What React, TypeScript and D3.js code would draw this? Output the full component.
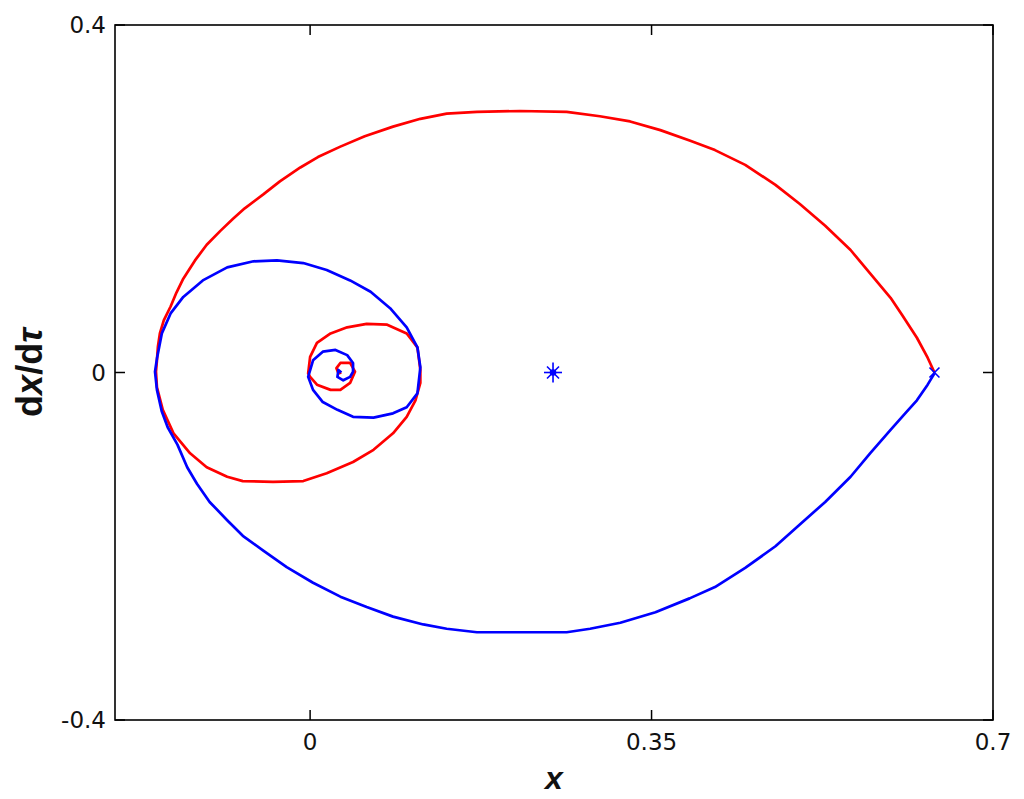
import React from "react";
import * as d3 from "d3";

// phase portrait: [x, dx/dtau] pairs
const redOrbit: [number, number][] = [
  [0.640, 0.000], [0.633, 0.017], [0.622, 0.040], [0.607, 0.066], [0.595, 0.086],
  [0.574, 0.114], [0.554, 0.141], [0.528, 0.169], [0.502, 0.194], [0.477, 0.216],
  [0.446, 0.239], [0.415, 0.256], [0.389, 0.267], [0.359, 0.279], [0.328, 0.289],
  [0.297, 0.295], [0.263, 0.300], [0.215, 0.301], [0.171, 0.300], [0.140, 0.298],
  [0.113, 0.292], [0.085, 0.283], [0.056, 0.272], [0.031, 0.260], [0.008, 0.248],
  [-0.010, 0.236], [-0.031, 0.220], [-0.048, 0.205], [-0.067, 0.189], [-0.079, 0.177],
  [-0.092, 0.163], [-0.106, 0.147], [-0.118, 0.129], [-0.130, 0.108], [-0.137, 0.092],
  [-0.143, 0.076], [-0.150, 0.060], [-0.154, 0.045], [-0.156, 0.030], [-0.157, 0.014],
  [-0.158, 0.001], [-0.157, -0.017], [-0.151, -0.043], [-0.140, -0.070], [-0.123, -0.093],
  [-0.106, -0.109], [-0.085, -0.120], [-0.069, -0.125], [-0.038, -0.126], [-0.007, -0.125],
  [0.017, -0.116], [0.044, -0.103], [0.065, -0.089], [0.085, -0.070], [0.099, -0.051],
  [0.108, -0.032], [0.113, -0.012], [0.113, 0.003], [0.110, 0.029], [0.099, 0.045],
  [0.079, 0.055], [0.058, 0.056], [0.038, 0.052], [0.021, 0.045], [0.007, 0.034],
  [0.000, 0.018], [-0.002, -0.001], [0.000, -0.005], [0.007, -0.014], [0.021, -0.020],
  [0.031, -0.020], [0.041, -0.012], [0.046, 0.001], [0.041, 0.011], [0.031, 0.011],
  [0.027, 0.005], [0.029, -0.001], [0.032, 0.000],
];

const blueOrbit: [number, number][] = [
  [0.640, -0.001], [0.633, -0.014], [0.622, -0.032], [0.610, -0.047], [0.595, -0.066],
  [0.574, -0.093], [0.554, -0.120], [0.528, -0.149], [0.502, -0.175], [0.477, -0.200],
  [0.446, -0.225], [0.415, -0.247], [0.389, -0.260], [0.354, -0.276], [0.318, -0.288],
  [0.287, -0.295], [0.263, -0.299], [0.215, -0.299], [0.171, -0.299], [0.140, -0.295],
  [0.116, -0.290], [0.085, -0.281], [0.058, -0.270], [0.031, -0.258], [0.003, -0.242],
  [-0.024, -0.224], [-0.048, -0.205], [-0.069, -0.188], [-0.085, -0.170], [-0.103, -0.149],
  [-0.116, -0.128], [-0.126, -0.109], [-0.136, -0.083], [-0.146, -0.063], [-0.152, -0.045],
  [-0.157, -0.020], [-0.159, 0.001], [-0.157, 0.016], [-0.152, 0.045], [-0.143, 0.068],
  [-0.130, 0.087], [-0.110, 0.106], [-0.085, 0.121], [-0.058, 0.128], [-0.034, 0.129],
  [-0.007, 0.126], [0.017, 0.118], [0.041, 0.106], [0.062, 0.093], [0.082, 0.074],
  [0.099, 0.052], [0.110, 0.029], [0.113, 0.006], [0.110, -0.024], [0.099, -0.040],
  [0.085, -0.047], [0.065, -0.052], [0.044, -0.051], [0.028, -0.043], [0.013, -0.034],
  [0.003, -0.020], [-0.002, -0.005], [0.003, 0.014], [0.013, 0.024], [0.026, 0.026],
  [0.038, 0.020], [0.044, 0.011], [0.044, 0.001], [0.041, -0.005], [0.034, -0.009],
  [0.028, -0.005], [0.029, 0.003], [0.032, 0.000],
];

const starPoint: [number, number] = [0.249, 0];
const saddlePoint: [number, number] = [0.640, 0];

const xTicks = [0, 0.35, 0.7];
const xTickLabels = ["0", "0.35", "0.7"];
const yTicks = [-0.4, 0, 0.4];
const yTickLabels = ["-0.4", "0", "0.4"];

const W = 1024;
const H = 799;
const left = 115, right = 993, top = 25, bottom = 720;

export default function App() {
  const x = d3.scaleLinear().domain([-0.2, 0.7]).range([left, right]);
  const y = d3.scaleLinear().domain([-0.4, 0.4]).range([bottom, top]);
  const line = d3.line<[number, number]>().x((d) => x(d[0])).y((d) => y(d[1]));

  const tickFont = "DejaVu Sans, sans-serif";
  const sx = x(starPoint[0]), sy = y(starPoint[1]);
  const cx = x(saddlePoint[0]), cy = y(saddlePoint[1]);

  return (
    <svg width={W} height={H} style={{ position: "absolute", left: 0, top: 0, background: "#fff" }}>
      <path d={line(redOrbit) || ""} fill="none" stroke="#ff0000" strokeWidth={2.7} strokeLinejoin="round" />
      <path d={line(blueOrbit) || ""} fill="none" stroke="#0000ff" strokeWidth={2.7} strokeLinejoin="round" />

      {/* equilibrium markers */}
      <g stroke="#0000ff" strokeWidth={1.6}>
        <line x1={sx - 9} x2={sx + 9} y1={sy} y2={sy} />
        <line x1={sx} x2={sx} y1={sy - 10} y2={sy + 10} />
        <line x1={sx - 6} x2={sx + 6} y1={sy - 6} y2={sy + 6} />
        <line x1={sx - 6} x2={sx + 6} y1={sy + 6} y2={sy - 6} />
        <circle cx={sx} cy={sy} r={2.5} fill="#0000ff" />
        <line x1={cx - 5} x2={cx + 5} y1={cy - 5} y2={cy + 5} />
        <line x1={cx - 5} x2={cx + 5} y1={cy + 5} y2={cy - 5} />
      </g>

      {/* axes box */}
      <rect x={left} y={top} width={right - left} height={bottom - top} fill="none" stroke="#000" strokeWidth={1.6} />
      <g stroke="#000" strokeWidth={1.5}>
        {xTicks.map((t) => (
          <g key={"xt" + t}>
            <line x1={x(t)} x2={x(t)} y1={bottom} y2={bottom - 10} />
            <line x1={x(t)} x2={x(t)} y1={top} y2={top + 10} />
          </g>
        ))}
        {yTicks.map((t) => (
          <g key={"yt" + t}>
            <line x1={left} x2={left + 10} y1={y(t)} y2={y(t)} />
            <line x1={right} x2={right - 10} y1={y(t)} y2={y(t)} />
          </g>
        ))}
      </g>

      <g fontFamily={tickFont} fontSize={23} fill="#111">
        {xTicks.map((t, i) => (
          <text key={"xl" + t} x={x(t)} y={750} textAnchor="middle">{xTickLabels[i]}</text>
        ))}
        {yTicks.map((t, i) => (
          <text key={"yl" + t} x={106} y={y(t)} dy="0.36em" textAnchor="end">{yTickLabels[i]}</text>
        ))}
      </g>

      <text x={(left + right) / 2} y={789} textAnchor="middle" fontFamily="Liberation Sans, Arial, sans-serif"
        fontSize={32} fontWeight="bold" fontStyle="italic" fill="#111">x</text>
      <text transform={`translate(42, ${(top + bottom) / 2}) rotate(-90)`} textAnchor="middle"
        fontFamily="Liberation Sans, Arial, sans-serif" fontSize={36} fontWeight="bold" fill="#111">
        d<tspan fontStyle="italic">x</tspan>/d<tspan fontStyle="italic">τ</tspan>
      </text>
    </svg>
  );
}
